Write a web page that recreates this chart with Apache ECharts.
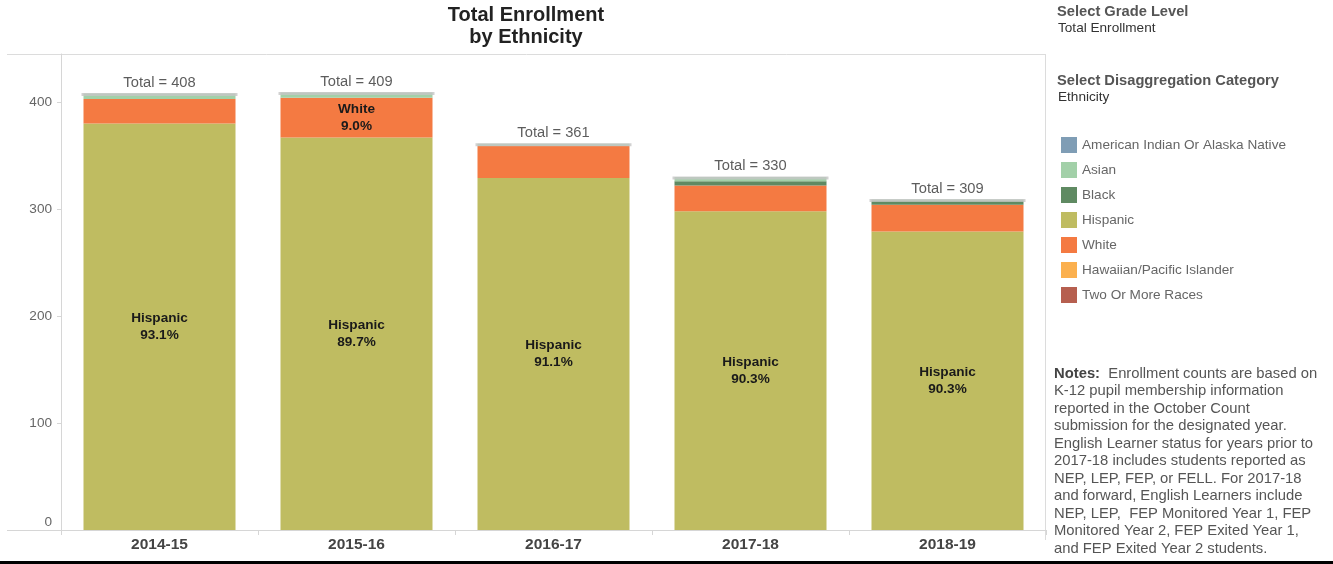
<!DOCTYPE html>
<html>
<head>
<meta charset="utf-8">
<title>Total Enrollment by Ethnicity</title>
<script src="https://cdn.jsdelivr.net/npm/echarts@6/dist/echarts.min.js"></script>
<style>
  html, body { margin: 0; padding: 0; background: #fff; }
  #chart { width: 1333px; height: 564px; }
</style>
</head>
<body>
<div id="chart"></div>
<script>
// values (students per year)
const years = ['2014-15', '2015-16', '2016-17', '2017-18', '2018-19'];
const hispanic = [380, 367, 329, 298, 279];
const white = [23, 37, 30, 24, 25];
const black = [0, 0, 0, 4, 4];
const asian = [5, 5, 2, 4, 1];
const amIndian = [0, 0, 0, 0, 0];
const hawaiian = [0, 0, 0, 0, 0];
const twoOrMore = [0, 0, 0, 0, 0];

const legendNames = ['American Indian Or Alaska Native', 'Asian', 'Black', 'Hispanic',
  'White', 'Hawaiian/Pacific Islander', 'Two Or More Races'];

const notesLines = [
  '{b|Notes:}  Enrollment counts are based on',
  'K-12 pupil membership information',
  'reported in the October Count',
  'submission for the designated year.',
  'English Learner status for years prior to',
  '2017-18 includes students reported as',
  'NEP, LEP, FEP, or FELL. For 2017-18',
  'and forward, English Learners include',
  'NEP, LEP,  FEP Monitored Year 1, FEP',
  'Monitored Year 2, FEP Exited Year 1,',
  'and FEP Exited Year 2 students.'
];

const totals = years.map((y, i) =>
  hispanic[i] + white[i] + black[i] + asian[i] + amIndian[i] + hawaiian[i] + twoOrMore[i]);

const FONT = '"Liberation Sans", Arial, Helvetica, sans-serif';

function segLabel(name) {
  return {
    show: true,
    position: 'inside',
    color: '#1a1a1a',
    fontWeight: 'bold',
    fontSize: 13.6,
    lineHeight: 17,
    formatter: function (p) {
      const share = p.value / totals[p.dataIndex];
      if (share < 0.085) return '';
      return name + '\n' + (share * 100).toFixed(1) + '%';
    }
  };
}

function barSeries(name, data, color, withLabel) {
  return {
    name: name,
    type: 'bar',
    stack: 'eth',
    barWidth: 152,
    data: data,
    itemStyle: { color: color },
    label: withLabel ? segLabel(name) : { show: false },
    emphasis: { disabled: true }
  };
}

const chart = echarts.init(document.getElementById('chart'));
chart.setOption({
  animation: false,
  textStyle: { fontFamily: FONT },
  title: {
    text: 'Total Enrollment\nby Ethnicity',
    left: 526,
    top: 0,
    padding: [4, 0, 0, 0],
    textAlign: 'center',
    textStyle: { fontSize: 20, fontWeight: 'bold', color: '#222', lineHeight: 22, fontFamily: FONT }
  },
  legend: {
    data: legendNames,
    orient: 'vertical',
    left: 1056,
    top: 132,
    icon: 'rect',
    itemWidth: 16,
    itemHeight: 16,
    itemGap: 9,
    selectedMode: false,
    textStyle: { fontSize: 13.6, color: '#666', fontFamily: FONT }
  },
  grid: { left: 61, right: 287, top: 54, bottom: 34 },
  xAxis: {
    type: 'category',
    data: years,
    axisLine: { lineStyle: { color: '#d6d6d6' } },
    axisTick: { show: true, length: 5, lineStyle: { color: '#d6d6d6' } },
    axisLabel: { fontSize: 15.5, fontWeight: 'bold', color: '#444', margin: 7 }
  },
  yAxis: {
    type: 'value',
    min: 0,
    max: 445,
    interval: 100,
    axisLine: { show: true, lineStyle: { color: '#d6d6d6' } },
    axisTick: { show: true, length: 4, lineStyle: { color: '#d6d6d6' } },
    splitLine: { show: false },
    axisLabel: {
      fontSize: 13.6,
      color: '#666',
      margin: 9,
      showMaxLabel: false,
      formatter: function (v) { return v === 0 ? '{z|0}' : String(v); },
      rich: { z: { fontSize: 13.6, color: '#666', padding: [0, 0, 16, 0] } }
    }
  },
  series: [
    barSeries('Hispanic', hispanic, '#bfbc61', true),
    barSeries('White', white, '#f47a42', true),
    barSeries('Black', black, '#5f8a62', false),
    barSeries('Asian', asian, '#a2d0a8', false),
    barSeries('American Indian Or Alaska Native', amIndian, '#7f9db5', false),
    barSeries('Hawaiian/Pacific Islander', hawaiian, '#fbb04e', false),
    barSeries('Two Or More Races', twoOrMore, '#b65f4f', false),
    {
      name: 'Total',
      type: 'scatter',
      data: totals,
      symbol: 'rect',
      symbolSize: [156, 3],
      symbolOffset: [0, 1],
      itemStyle: { color: '#c6c6c6' },
      z: 5,
      label: {
        show: true,
        position: 'top',
        distance: 3,
        fontSize: 14.7,
        color: '#333',
        formatter: function (p) { return 'Total = ' + p.value; }
      },
      emphasis: { disabled: true }
    }
  ],
  graphic: [
    { type: 'line', shape: { x1: 7, y1: 54.5, x2: 1046, y2: 54.5 }, style: { stroke: '#dcdcdc', lineWidth: 1 } },
    { type: 'line', shape: { x1: 7, y1: 530.5, x2: 61, y2: 530.5 }, style: { stroke: '#d6d6d6', lineWidth: 1 } },
    { type: 'line', shape: { x1: 1045.5, y1: 54, x2: 1045.5, y2: 540 }, style: { stroke: '#dcdcdc', lineWidth: 1 } },
    { type: 'rect', shape: { x: 0, y: 561, width: 1333, height: 3 }, style: { fill: '#000' } },
    { type: 'text', left: 1057, top: 4, style: { text: 'Select Grade Level', font: 'bold 14.7px ' + FONT, fill: '#555' } },
    { type: 'text', left: 1058, top: 21, style: { text: 'Total Enrollment', font: '13.6px ' + FONT, fill: '#333' } },
    { type: 'text', left: 1057, top: 73, style: { text: 'Select Disaggregation Category', font: 'bold 14.7px ' + FONT, fill: '#555' } },
    { type: 'text', left: 1058, top: 90, style: { text: 'Ethnicity', font: '13.6px ' + FONT, fill: '#333' } },
    {
      type: 'text', left: 1054, top: 365,
      style: {
        text: notesLines.join('\n'),
        font: '14.8px ' + FONT,
        fill: '#555',
        lineHeight: 17.5,
        rich: { b: { fontWeight: 'bold', fontSize: 14.8, fill: '#444', fontFamily: FONT, lineHeight: 17.5 } }
      }
    }
  ]
});
</script>
</body>
</html>
